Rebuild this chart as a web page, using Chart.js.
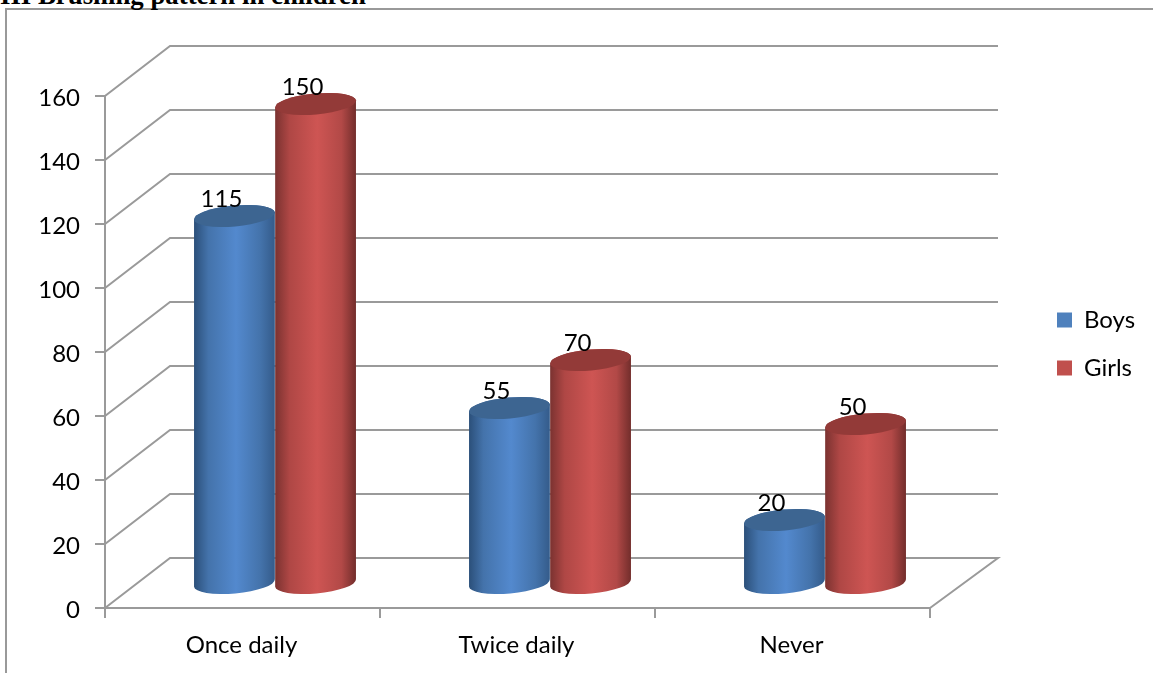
<!DOCTYPE html>
<html>
<head>
<meta charset="utf-8">
<title>Brushing pattern in children</title>
<script src="https://cdn.jsdelivr.net/npm/chart.js@4"></script>
<style>
    html, body { margin: 0; padding: 0; background: #fff; overflow: hidden; }
    #wrap { position: relative; width: 1153px; height: 673px; overflow: hidden; }
    #heading {
        position: absolute; left: 0; top: -20px; white-space: nowrap;
        font: bold 26.8px "Liberation Serif", serif; color: #000;
    }
    #frame {
        position: absolute; left: 5px; top: 8px; right: 0; bottom: 0;
        border-top: 2px solid #999; border-left: 2px solid #999;
    }
    canvas { position: absolute; left: 0; top: 0; }
</style>
</head>
<body>
<div id="wrap">
    <div id="frame"></div>
    <div id="heading">III Brushing pattern in children</div>
    <canvas id="brushChart" width="1153" height="673"></canvas>
</div>
<script>
// Data
const categories = ['Once daily', 'Twice daily', 'Never'];
const boys = [115, 55, 20];
const girls = [150, 70, 50];
const yTicks = [0, 20, 40, 60, 80, 100, 120, 140, 160];

// Depth of the fake 3D box, columns stand halfway into it
const DEPTH_X = 65;
const DEPTH_Y = 50;
const AXIS_COLOR = '#9a9a9a';
const LABEL_FONT = { family: 'Lato, Carlito, sans-serif', size: 24 };

const shades = {
    Boys: { cap: '#3d6591', stops: ['#2b4f79', '#4473ab', '#5389ce', '#4473ab', '#345b8a'] },
    Girls: { cap: '#933a38', stops: ['#7a3230', '#af4745', '#ce5553', '#b24947', '#722d2b'] }
};

// Back wall and side lines behind the columns
const wallPlugin = {
    id: 'wall',
    beforeDatasetsDraw(chart) {
        const { ctx, chartArea, scales: { y } } = chart;
        ctx.save();
        ctx.strokeStyle = AXIS_COLOR;
        ctx.lineWidth = 2;
        yTicks.forEach(v => {
            const py = y.getPixelForValue(v);
            ctx.beginPath();
            ctx.moveTo(chartArea.left, py);
            ctx.lineTo(chartArea.left + DEPTH_X, py - DEPTH_Y);
            ctx.lineTo(chartArea.right + DEPTH_X + 3, py - DEPTH_Y);
            if (v === 0) ctx.lineTo(chartArea.right, py);
            ctx.stroke();
        });
        ctx.restore();
    }
};

function drawColumn(ctx, bar, shade) {
    const rx = bar.width / 2;
    const ry = 10.5;
    const tilt = -0.09;
    const cx = bar.x + DEPTH_X / 2;
    const top = bar.y - DEPTH_Y / 2 + 1;
    const base = bar.base - DEPTH_Y / 2 + 1;

    const side = ctx.createLinearGradient(cx - rx, 0, cx + rx, 0);
    side.addColorStop(0, shade.stops[0]);
    side.addColorStop(0.18, shade.stops[1]);
    side.addColorStop(0.52, shade.stops[2]);
    side.addColorStop(0.82, shade.stops[3]);
    side.addColorStop(1, shade.stops[4]);

    ctx.beginPath();
    ctx.ellipse(cx, top, rx, ry, tilt, Math.PI, 0);
    ctx.ellipse(cx, base, rx, ry, tilt, 0, Math.PI);
    ctx.closePath();
    ctx.fillStyle = side;
    ctx.fill();

    ctx.beginPath();
    ctx.ellipse(cx, top, rx, ry, tilt, 0, Math.PI * 2);
    ctx.fillStyle = shade.cap;
    ctx.fill();
}

// Columns replace the flat bars, values go on top of them
const columnPlugin = {
    id: 'columns',
    beforeDatasetDraw() {
        return false;
    },
    afterDatasetsDraw(chart) {
        const { ctx } = chart;
        chart.data.datasets.forEach((ds, i) => {
            chart.getDatasetMeta(i).data.forEach(bar => drawColumn(ctx, bar, shades[ds.label]));
        });
        ctx.save();
        ctx.fillStyle = '#000';
        ctx.font = LABEL_FONT.size + 'px ' + LABEL_FONT.family;
        ctx.textAlign = 'center';
        ctx.textBaseline = 'middle';
        chart.data.datasets.forEach((ds, i) => {
            chart.getDatasetMeta(i).data.forEach((bar, j) => {
                ctx.fillText(ds.data[j], bar.x + DEPTH_X / 2 - 13, bar.y - DEPTH_Y / 2 - 16);
            });
        });
        ctx.restore();
    }
};

// Moves the legend out of the plot, right of the box
const legendSpot = {
    id: 'legendSpot',
    afterLayout(chart) {
        const l = chart.legend;
        l.left = 1033;
        l.right = 1153;
        l.top = 284;
        l.bottom = 420;
    }
};

new Chart(document.getElementById('brushChart'), {
    type: 'bar',
    data: {
        labels: categories,
        datasets: [
            { label: 'Boys', data: boys, backgroundColor: '#4f81bd', categoryPercentage: 0.59, barPercentage: 1 },
            { label: 'Girls', data: girls, backgroundColor: '#c0504d', categoryPercentage: 0.59, barPercentage: 1 }
        ]
    },
    plugins: [wallPlugin, columnPlugin, legendSpot],
    options: {
        responsive: false,
        animation: false,
        layout: { padding: { top: 96, right: 223, left: 0, bottom: 0 } },
        plugins: {
            title: { display: false },
            tooltip: { enabled: false },
            legend: {
                position: 'chartArea',
                align: 'start',
                labels: { boxWidth: 15, boxHeight: 15, padding: 24, color: '#000', font: LABEL_FONT }
            }
        },
        scales: {
            x: {
                afterFit(scale) { scale.height = 65; },
                grid: { drawOnChartArea: false, tickLength: 10, tickColor: AXIS_COLOR, lineWidth: 2, offset: true },
                border: { color: AXIS_COLOR, width: 2 },
                ticks: { color: '#000', font: LABEL_FONT, padding: 13, maxRotation: 0, labelOffset: -1 }
            },
            y: {
                min: 0,
                max: 160,
                afterFit(scale) { scale.width = 105; },
                afterBuildTicks(scale) { scale.ticks = yTicks.map(v => ({ value: v })); },
                grid: { drawOnChartArea: false, tickLength: 10, tickColor: AXIS_COLOR, lineWidth: 2 },
                border: { color: AXIS_COLOR, width: 2 },
                ticks: { color: '#000', font: LABEL_FONT, padding: 15, labelOffset: 2 }
            }
        }
    }
});
</script>
</body>
</html>
